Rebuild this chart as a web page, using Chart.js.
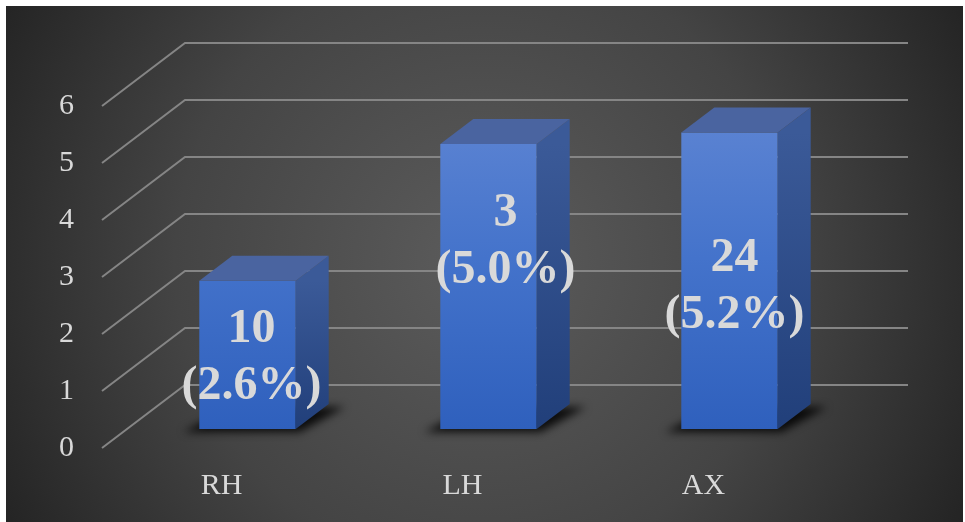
<!DOCTYPE html>
<html>
<head>
<meta charset="utf-8">
<script src="https://cdn.jsdelivr.net/npm/chart.js@4.4.0/dist/chart.umd.min.js"></script>
<style>
  html, body { margin: 0; padding: 0; background: #fff; }
  #wrap { width: 965px; height: 522px; }
</style>
</head>
<body>
<div id="wrap"><canvas id="chart" width="965" height="522"></canvas></div>
<script>
// chart data
const categories = ['RH', 'LH', 'AX'];
const shares = [2.6, 5.0, 5.2];      // bar heights (%)
const counts = [10, 3, 24];          // numbers shown above the %
const yTicks = [0, 1, 2, 3, 4, 5, 6];

// 3d look
const depthFront = { dx: -25, dy: 19 };   // bar plane -> front edge of floor
const depthBack = { dx: 58, dy: -44 };    // bar plane -> back wall
const barDepth = { dx: 33, dy: -25 };
const labelShift = [[4, 3], [17, -45], [5, 6]];  // tweak per data label

const serif = '"Liberation Serif", "Times New Roman", serif';

// background: white frame + dark radial gradient
const backgroundPlugin = {
    id: 'bg',
    beforeDraw(chart) {
        const ctx = chart.ctx;
        ctx.save();
        ctx.fillStyle = '#ffffff';
        ctx.fillRect(0, 0, chart.width, chart.height);
        const g = ctx.createRadialGradient(483, 262, 0, 483, 262, 560);
        g.addColorStop(0, '#5c5c5c');
        g.addColorStop(0.55, '#444444');
        g.addColorStop(1, '#222222');
        ctx.fillStyle = g;
        ctx.fillRect(6, 6, 957, 516);
        ctx.restore();
    }
};

// gridlines on the floor edge + back wall, and bar shadows
const gridPlugin = {
    id: 'grid3d',
    beforeDatasetsDraw(chart) {
        const ctx = chart.ctx;
        const area = chart.chartArea;
        const y = chart.scales.y;
        ctx.save();
        ctx.strokeStyle = '#858585';
        ctx.lineWidth = 2;
        yTicks.forEach(v => {
            const py = y.getPixelForValue(v);
            ctx.beginPath();
            ctx.moveTo(area.left + depthFront.dx, py + depthFront.dy);
            ctx.lineTo(area.left + depthBack.dx, py + depthBack.dy);
            ctx.lineTo(area.right + depthBack.dx, py + depthBack.dy);
            ctx.stroke();
        });

        // soft shadows under each bar
        const meta = chart.getDatasetMeta(0);
        ctx.filter = 'blur(4px)';
        ctx.fillStyle = 'rgba(0,0,0,0.85)';
        meta.data.forEach(bar => {
            const x0 = bar.x - bar.width / 2;
            const x1 = bar.x + bar.width / 2;
            const yb = bar.base;
            ctx.beginPath();
            ctx.moveTo(x0 - 16, yb + 3);
            ctx.lineTo(x1 + 4, yb + 3);
            ctx.lineTo(x1 + barDepth.dx + 16, yb + barDepth.dy + 3);
            ctx.lineTo(x0 + barDepth.dx, yb + barDepth.dy + 3);
            ctx.closePath();
            ctx.fill();
        });
        ctx.restore();
    }
};

// side + top faces of the bars, then the data labels
const barFacesPlugin = {
    id: 'faces3d',
    afterDatasetsDraw(chart) {
        const ctx = chart.ctx;
        const meta = chart.getDatasetMeta(0);
        ctx.save();
        meta.data.forEach((bar, i) => {
            const x0 = bar.x - bar.width / 2;
            const x1 = bar.x + bar.width / 2;
            const yt = bar.y;
            const yb = bar.base;

            // side face
            const side = ctx.createLinearGradient(0, yt, 0, yb);
            side.addColorStop(0, '#3b5a98');
            side.addColorStop(1, '#213f7a');
            ctx.fillStyle = side;
            ctx.beginPath();
            ctx.moveTo(x1, yt);
            ctx.lineTo(x1 + barDepth.dx, yt + barDepth.dy);
            ctx.lineTo(x1 + barDepth.dx, yb + barDepth.dy);
            ctx.lineTo(x1, yb);
            ctx.closePath();
            ctx.fill();

            // top face
            ctx.fillStyle = '#4a64a0';
            ctx.beginPath();
            ctx.moveTo(x0, yt);
            ctx.lineTo(x0 + barDepth.dx, yt + barDepth.dy);
            ctx.lineTo(x1 + barDepth.dx, yt + barDepth.dy);
            ctx.lineTo(x1, yt);
            ctx.closePath();
            ctx.fill();

            // label
            const cx = bar.x + labelShift[i][0];
            const cy = (yt + yb) / 2 + labelShift[i][1];
            ctx.fillStyle = '#d9d9d9';
            ctx.font = 'bold 48px ' + serif;
            ctx.textAlign = 'center';
            ctx.textBaseline = 'middle';
            ctx.fillText(String(counts[i]), cx, cy - 28);
            ctx.fillText('(' + shares[i].toFixed(1) + '%)', cx, cy + 29);
        });
        ctx.restore();
    }
};

const ctx = document.getElementById('chart').getContext('2d');
new Chart(ctx, {
    type: 'bar',
    data: {
        labels: categories,
        datasets: [{
            data: shares,
            backgroundColor: function (context) {
                const area = context.chart.chartArea;
                if (!area) return '#4472c4';
                const el = context.element;
                const top = el && isFinite(el.y) ? el.y : area.top;
                const g = context.chart.ctx.createLinearGradient(0, top, 0, area.bottom);
                g.addColorStop(0, '#6187d4');
                g.addColorStop(0.5, '#4473cb');
                g.addColorStop(1, '#2f60bd');
                return g;
            },
            borderWidth: 0,
            barPercentage: 0.4,
            categoryPercentage: 1.0
        }]
    },
    options: {
        responsive: false,
        animation: false,
        layout: { padding: { left: 0, right: 115, top: 87, bottom: 0 } },
        plugins: {
            legend: { display: false },
            tooltip: { enabled: false }
        },
        scales: {
            x: {
                grid: { display: false, drawTicks: false },
                border: { display: false },
                ticks: {
                    color: '#d9d9d9',
                    font: { family: serif, size: 30 },
                    padding: 39,
                    labelOffset: -26
                },
                afterFit(scale) { scale.height = 93; }
            },
            y: {
                min: 0,
                max: 6,
                grid: { display: false, drawTicks: false },
                border: { display: false },
                ticks: {
                    stepSize: 1,
                    color: '#d9d9d9',
                    font: { family: serif, size: 30 },
                    padding: 53,
                    labelOffset: 19
                },
                afterFit(scale) { scale.width = 127; }
            }
        }
    },
    plugins: [backgroundPlugin, gridPlugin, barFacesPlugin]
});
</script>
</body>
</html>
